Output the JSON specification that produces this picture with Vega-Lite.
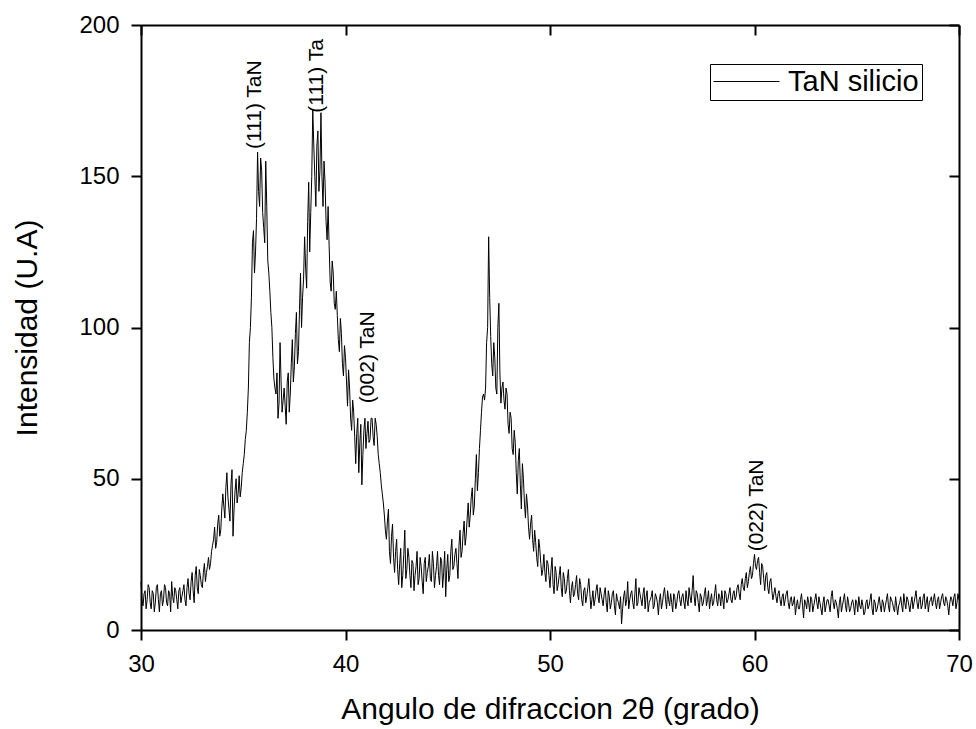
{
"$schema": "https://vega.github.io/schema/vega-lite/v6.json",
"width": 818, "height": 605,
"autosize": "none",
"padding": {"left": 141, "top": 25, "right": 17, "bottom": 99},
"background": "white",
"config": {"view": {"stroke": null}, "font": "Liberation Sans"},
"data": {"values": [
{"angle":30.0,"intensity":16},{"angle":30.1,"intensity":8},{"angle":30.2,"intensity":13},{"angle":30.3,"intensity":10},{"angle":30.4,"intensity":14},{"angle":30.5,"intensity":7},{"angle":30.6,"intensity":12},{"angle":30.7,"intensity":9},{"angle":30.8,"intensity":15},{"angle":30.9,"intensity":6},
{"angle":31.0,"intensity":13},{"angle":31.1,"intensity":10},{"angle":31.2,"intensity":14},{"angle":31.3,"intensity":8},{"angle":31.4,"intensity":12},{"angle":31.5,"intensity":16},{"angle":31.6,"intensity":9},{"angle":31.7,"intensity":13},{"angle":31.8,"intensity":7},{"angle":31.9,"intensity":14},
{"angle":32.0,"intensity":11},{"angle":32.1,"intensity":15},{"angle":32.2,"intensity":8},{"angle":32.3,"intensity":17},{"angle":32.4,"intensity":10},{"angle":32.5,"intensity":19},{"angle":32.6,"intensity":9},{"angle":32.7,"intensity":21},{"angle":32.8,"intensity":12},{"angle":32.9,"intensity":18},
{"angle":33.0,"intensity":14},{"angle":33.1,"intensity":22},{"angle":33.2,"intensity":19},{"angle":33.3,"intensity":24},{"angle":33.4,"intensity":22},{"angle":33.5,"intensity":28},{"angle":33.6,"intensity":34},{"angle":33.7,"intensity":29},{"angle":33.8,"intensity":38},{"angle":33.9,"intensity":33},
{"angle":34.0,"intensity":45},{"angle":34.1,"intensity":37},{"angle":34.2,"intensity":52},{"angle":34.3,"intensity":40},{"angle":34.4,"intensity":48},{"angle":34.5,"intensity":31},{"angle":34.6,"intensity":46},{"angle":34.7,"intensity":42},{"angle":34.8,"intensity":51},{"angle":34.9,"intensity":47},
{"angle":35.0,"intensity":55},{"angle":35.1,"intensity":63},{"angle":35.2,"intensity":72},{"angle":35.3,"intensity":95},{"angle":35.4,"intensity":110},{"angle":35.5,"intensity":132},{"angle":35.6,"intensity":125},{"angle":35.7,"intensity":158},{"angle":35.8,"intensity":140},{"angle":35.9,"intensity":152},
{"angle":36.0,"intensity":133},{"angle":36.1,"intensity":155},{"angle":36.2,"intensity":122},{"angle":36.3,"intensity":112},{"angle":36.4,"intensity":100},{"angle":36.5,"intensity":83},{"angle":36.6,"intensity":78},{"angle":36.7,"intensity":70},{"angle":36.8,"intensity":95},{"angle":36.9,"intensity":72},
{"angle":37.0,"intensity":80},{"angle":37.1,"intensity":68},{"angle":37.2,"intensity":85},{"angle":37.3,"intensity":78},{"angle":37.4,"intensity":96},{"angle":37.5,"intensity":87},{"angle":37.6,"intensity":105},{"angle":37.7,"intensity":92},{"angle":37.8,"intensity":118},{"angle":37.9,"intensity":110},
{"angle":38.0,"intensity":130},{"angle":38.1,"intensity":113},{"angle":38.2,"intensity":148},{"angle":38.3,"intensity":138},{"angle":38.4,"intensity":172},{"angle":38.5,"intensity":150},{"angle":38.6,"intensity":160},{"angle":38.7,"intensity":145},{"angle":38.8,"intensity":171},{"angle":38.9,"intensity":140},
{"angle":39.0,"intensity":148},{"angle":39.1,"intensity":129},{"angle":39.2,"intensity":127},{"angle":39.3,"intensity":112},{"angle":39.4,"intensity":118},{"angle":39.5,"intensity":106},{"angle":39.6,"intensity":104},{"angle":39.7,"intensity":92},{"angle":39.8,"intensity":98},{"angle":39.9,"intensity":84},
{"angle":40.0,"intensity":90},{"angle":40.1,"intensity":74},{"angle":40.2,"intensity":80},{"angle":40.3,"intensity":66},{"angle":40.4,"intensity":72},{"angle":40.5,"intensity":55},{"angle":40.6,"intensity":70},{"angle":40.7,"intensity":62},{"angle":40.8,"intensity":48},{"angle":40.9,"intensity":66},
{"angle":41.0,"intensity":60},{"angle":41.1,"intensity":69},{"angle":41.2,"intensity":63},{"angle":41.3,"intensity":70},{"angle":41.4,"intensity":61},{"angle":41.5,"intensity":68},{"angle":41.6,"intensity":58},{"angle":41.7,"intensity":52},{"angle":41.8,"intensity":45},{"angle":41.9,"intensity":38},
{"angle":42.0,"intensity":30},{"angle":42.1,"intensity":40},{"angle":42.2,"intensity":22},{"angle":42.3,"intensity":35},{"angle":42.4,"intensity":19},{"angle":42.5,"intensity":30},{"angle":42.6,"intensity":15},{"angle":42.7,"intensity":27},{"angle":42.8,"intensity":18},{"angle":42.9,"intensity":33},
{"angle":43.0,"intensity":20},{"angle":43.1,"intensity":24},{"angle":43.2,"intensity":14},{"angle":43.3,"intensity":22},{"angle":43.4,"intensity":18},{"angle":43.5,"intensity":26},{"angle":43.6,"intensity":17},{"angle":43.7,"intensity":21},{"angle":43.8,"intensity":12},{"angle":43.9,"intensity":24},
{"angle":44.0,"intensity":19},{"angle":44.1,"intensity":25},{"angle":44.2,"intensity":16},{"angle":44.3,"intensity":22},{"angle":44.4,"intensity":18},{"angle":44.5,"intensity":26},{"angle":44.6,"intensity":15},{"angle":44.7,"intensity":23},{"angle":44.8,"intensity":19},{"angle":44.9,"intensity":11},
{"angle":45.0,"intensity":25},{"angle":45.1,"intensity":18},{"angle":45.2,"intensity":30},{"angle":45.3,"intensity":21},{"angle":45.4,"intensity":27},{"angle":45.5,"intensity":17},{"angle":45.6,"intensity":33},{"angle":45.7,"intensity":26},{"angle":45.8,"intensity":36},{"angle":45.9,"intensity":31},
{"angle":46.0,"intensity":42},{"angle":46.1,"intensity":38},{"angle":46.2,"intensity":47},{"angle":46.3,"intensity":41},{"angle":46.4,"intensity":58},{"angle":46.5,"intensity":52},{"angle":46.6,"intensity":66},{"angle":46.7,"intensity":77},{"angle":46.8,"intensity":76},{"angle":46.9,"intensity":95},
{"angle":47.0,"intensity":130},{"angle":47.1,"intensity":97},{"angle":47.2,"intensity":84},{"angle":47.3,"intensity":90},{"angle":47.4,"intensity":78},{"angle":47.5,"intensity":108},{"angle":47.6,"intensity":75},{"angle":47.7,"intensity":82},{"angle":47.8,"intensity":73},{"angle":47.9,"intensity":78},
{"angle":48.0,"intensity":65},{"angle":48.1,"intensity":70},{"angle":48.2,"intensity":58},{"angle":48.3,"intensity":62},{"angle":48.4,"intensity":45},{"angle":48.5,"intensity":60},{"angle":48.6,"intensity":40},{"angle":48.7,"intensity":50},{"angle":48.8,"intensity":37},{"angle":48.9,"intensity":41},
{"angle":49.0,"intensity":30},{"angle":49.1,"intensity":38},{"angle":49.2,"intensity":26},{"angle":49.3,"intensity":29},{"angle":49.4,"intensity":21},{"angle":49.5,"intensity":27},{"angle":49.6,"intensity":18},{"angle":49.7,"intensity":25},{"angle":49.8,"intensity":16},{"angle":49.9,"intensity":22},
{"angle":50.0,"intensity":14},{"angle":50.1,"intensity":24},{"angle":50.2,"intensity":12},{"angle":50.3,"intensity":19},{"angle":50.4,"intensity":15},{"angle":50.5,"intensity":21},{"angle":50.6,"intensity":11},{"angle":50.7,"intensity":17},{"angle":50.8,"intensity":13},{"angle":50.9,"intensity":20},
{"angle":51.0,"intensity":9},{"angle":51.1,"intensity":16},{"angle":51.2,"intensity":12},{"angle":51.3,"intensity":18},{"angle":51.4,"intensity":10},{"angle":51.5,"intensity":15},{"angle":51.6,"intensity":8},{"angle":51.7,"intensity":14},{"angle":51.8,"intensity":11},{"angle":51.9,"intensity":17},
{"angle":52.0,"intensity":7},{"angle":52.1,"intensity":13},{"angle":52.2,"intensity":10},{"angle":52.3,"intensity":15},{"angle":52.4,"intensity":9},{"angle":52.5,"intensity":12},{"angle":52.6,"intensity":8},{"angle":52.7,"intensity":14},{"angle":52.8,"intensity":6},{"angle":52.9,"intensity":11},
{"angle":53.0,"intensity":9},{"angle":53.1,"intensity":13},{"angle":53.2,"intensity":5},{"angle":53.3,"intensity":10},{"angle":53.4,"intensity":7},{"angle":53.5,"intensity":2},{"angle":53.6,"intensity":11},{"angle":53.7,"intensity":8},{"angle":53.8,"intensity":16},{"angle":53.9,"intensity":10},
{"angle":54.0,"intensity":13},{"angle":54.1,"intensity":7},{"angle":54.2,"intensity":17},{"angle":54.3,"intensity":9},{"angle":54.4,"intensity":12},{"angle":54.5,"intensity":8},{"angle":54.6,"intensity":14},{"angle":54.7,"intensity":11},{"angle":54.8,"intensity":6},{"angle":54.9,"intensity":10},
{"angle":55.0,"intensity":13},{"angle":55.1,"intensity":8},{"angle":55.2,"intensity":11},{"angle":55.3,"intensity":5},{"angle":55.4,"intensity":12},{"angle":55.5,"intensity":9},{"angle":55.6,"intensity":14},{"angle":55.7,"intensity":7},{"angle":55.8,"intensity":10},{"angle":55.9,"intensity":12},
{"angle":56.0,"intensity":6},{"angle":56.1,"intensity":11},{"angle":56.2,"intensity":9},{"angle":56.3,"intensity":13},{"angle":56.4,"intensity":8},{"angle":56.5,"intensity":12},{"angle":56.6,"intensity":7},{"angle":56.7,"intensity":10},{"angle":56.8,"intensity":14},{"angle":56.9,"intensity":9},
{"angle":57.0,"intensity":18},{"angle":57.1,"intensity":8},{"angle":57.2,"intensity":12},{"angle":57.3,"intensity":6},{"angle":57.4,"intensity":11},{"angle":57.5,"intensity":9},{"angle":57.6,"intensity":14},{"angle":57.7,"intensity":10},{"angle":57.8,"intensity":7},{"angle":57.9,"intensity":12},
{"angle":58.0,"intensity":9},{"angle":58.1,"intensity":15},{"angle":58.2,"intensity":8},{"angle":58.3,"intensity":11},{"angle":58.4,"intensity":13},{"angle":58.5,"intensity":7},{"angle":58.6,"intensity":12},{"angle":58.7,"intensity":10},{"angle":58.8,"intensity":14},{"angle":58.9,"intensity":9},
{"angle":59.0,"intensity":13},{"angle":59.1,"intensity":11},{"angle":59.2,"intensity":15},{"angle":59.3,"intensity":10},{"angle":59.4,"intensity":17},{"angle":59.5,"intensity":13},{"angle":59.6,"intensity":19},{"angle":59.7,"intensity":16},{"angle":59.8,"intensity":21},{"angle":59.9,"intensity":18},
{"angle":60.0,"intensity":25},{"angle":60.1,"intensity":20},{"angle":60.2,"intensity":24},{"angle":60.3,"intensity":15},{"angle":60.4,"intensity":21},{"angle":60.5,"intensity":13},{"angle":60.6,"intensity":19},{"angle":60.7,"intensity":12},{"angle":60.8,"intensity":17},{"angle":60.9,"intensity":10},
{"angle":61.0,"intensity":14},{"angle":61.1,"intensity":9},{"angle":61.2,"intensity":13},{"angle":61.3,"intensity":8},{"angle":61.4,"intensity":12},{"angle":61.5,"intensity":10},{"angle":61.6,"intensity":13},{"angle":61.7,"intensity":7},{"angle":61.8,"intensity":11},{"angle":61.9,"intensity":9},
{"angle":62.0,"intensity":5},{"angle":62.1,"intensity":10},{"angle":62.2,"intensity":7},{"angle":62.3,"intensity":12},{"angle":62.4,"intensity":4},{"angle":62.5,"intensity":9},{"angle":62.6,"intensity":11},{"angle":62.7,"intensity":6},{"angle":62.8,"intensity":10},{"angle":62.9,"intensity":8},
{"angle":63.0,"intensity":12},{"angle":63.1,"intensity":7},{"angle":63.2,"intensity":9},{"angle":63.3,"intensity":5},{"angle":63.4,"intensity":11},{"angle":63.5,"intensity":8},{"angle":63.6,"intensity":10},{"angle":63.7,"intensity":6},{"angle":63.8,"intensity":13},{"angle":63.9,"intensity":7},
{"angle":64.0,"intensity":9},{"angle":64.1,"intensity":4},{"angle":64.2,"intensity":11},{"angle":64.3,"intensity":8},{"angle":64.4,"intensity":12},{"angle":64.5,"intensity":6},{"angle":64.6,"intensity":9},{"angle":64.7,"intensity":7},{"angle":64.8,"intensity":10},{"angle":64.9,"intensity":5},
{"angle":65.0,"intensity":9},{"angle":65.1,"intensity":11},{"angle":65.2,"intensity":7},{"angle":65.3,"intensity":8},{"angle":65.4,"intensity":6},{"angle":65.5,"intensity":10},{"angle":65.6,"intensity":8},{"angle":65.7,"intensity":12},{"angle":65.8,"intensity":5},{"angle":65.9,"intensity":9},
{"angle":66.0,"intensity":7},{"angle":66.1,"intensity":11},{"angle":66.2,"intensity":6},{"angle":66.3,"intensity":9},{"angle":66.4,"intensity":8},{"angle":66.5,"intensity":12},{"angle":66.6,"intensity":6},{"angle":66.7,"intensity":10},{"angle":66.8,"intensity":7},{"angle":66.9,"intensity":11},
{"angle":67.0,"intensity":5},{"angle":67.1,"intensity":9},{"angle":67.2,"intensity":8},{"angle":67.3,"intensity":12},{"angle":67.4,"intensity":7},{"angle":67.5,"intensity":10},{"angle":67.6,"intensity":6},{"angle":67.7,"intensity":11},{"angle":67.8,"intensity":9},{"angle":67.9,"intensity":13},
{"angle":68.0,"intensity":7},{"angle":68.1,"intensity":11},{"angle":68.2,"intensity":8},{"angle":68.3,"intensity":12},{"angle":68.4,"intensity":9},{"angle":68.5,"intensity":6},{"angle":68.6,"intensity":10},{"angle":68.7,"intensity":8},{"angle":68.8,"intensity":12},{"angle":68.9,"intensity":7},
{"angle":69.0,"intensity":11},{"angle":69.1,"intensity":9},{"angle":69.2,"intensity":12},{"angle":69.3,"intensity":8},{"angle":69.4,"intensity":10},{"angle":69.5,"intensity":5},{"angle":69.6,"intensity":11},{"angle":69.7,"intensity":8},{"angle":69.8,"intensity":12},{"angle":69.9,"intensity":9},
{"angle":70.0,"intensity":10},
{"angle":30.05,"intensity":10},{"angle":30.15,"intensity":12},{"angle":30.25,"intensity":7},{"angle":30.35,"intensity":15},{"angle":30.45,"intensity":9},{"angle":30.55,"intensity":13},{"angle":30.65,"intensity":6},{"angle":30.75,"intensity":14},{"angle":30.85,"intensity":10},{"angle":30.95,"intensity":12},
{"angle":31.05,"intensity":8},{"angle":31.15,"intensity":15},{"angle":31.25,"intensity":9},{"angle":31.35,"intensity":13},{"angle":31.45,"intensity":6},{"angle":31.55,"intensity":11},{"angle":31.65,"intensity":14},{"angle":31.75,"intensity":10},{"angle":31.85,"intensity":13},{"angle":31.95,"intensity":9},
{"angle":32.05,"intensity":13},{"angle":32.15,"intensity":10},{"angle":32.25,"intensity":14},{"angle":32.35,"intensity":12},{"angle":32.45,"intensity":16},{"angle":32.55,"intensity":13},{"angle":32.65,"intensity":18},{"angle":32.75,"intensity":14},{"angle":32.85,"intensity":20},{"angle":32.95,"intensity":15},
{"angle":33.05,"intensity":19},{"angle":33.15,"intensity":16},{"angle":33.25,"intensity":21},{"angle":33.35,"intensity":20},{"angle":33.45,"intensity":26},{"angle":33.55,"intensity":30},{"angle":33.65,"intensity":27},{"angle":33.75,"intensity":35},{"angle":33.85,"intensity":31},{"angle":33.95,"intensity":40},
{"angle":34.05,"intensity":41},{"angle":34.15,"intensity":47},{"angle":34.25,"intensity":44},{"angle":34.35,"intensity":36},{"angle":34.45,"intensity":53},{"angle":34.55,"intensity":40},{"angle":34.65,"intensity":50},{"angle":34.75,"intensity":45},{"angle":34.85,"intensity":44},{"angle":34.95,"intensity":52},
{"angle":35.05,"intensity":58},{"angle":35.15,"intensity":66},{"angle":35.25,"intensity":80},{"angle":35.35,"intensity":100},{"angle":35.45,"intensity":128},{"angle":35.55,"intensity":118},{"angle":35.65,"intensity":136},{"angle":35.75,"intensity":145},{"angle":35.85,"intensity":156},{"angle":35.95,"intensity":138},
{"angle":36.05,"intensity":128},{"angle":36.15,"intensity":140},{"angle":36.25,"intensity":118},{"angle":36.35,"intensity":105},{"angle":36.45,"intensity":90},{"angle":36.55,"intensity":80},{"angle":36.65,"intensity":85},{"angle":36.75,"intensity":75},{"angle":36.85,"intensity":82},{"angle":36.95,"intensity":76},
{"angle":37.05,"intensity":74},{"angle":37.15,"intensity":82},{"angle":37.25,"intensity":72},{"angle":37.35,"intensity":88},{"angle":37.45,"intensity":82},{"angle":37.55,"intensity":98},{"angle":37.65,"intensity":88},{"angle":37.75,"intensity":106},{"angle":37.85,"intensity":100},{"angle":37.95,"intensity":116},
{"angle":38.05,"intensity":120},{"angle":38.15,"intensity":135},{"angle":38.25,"intensity":125},{"angle":38.35,"intensity":150},{"angle":38.45,"intensity":160},{"angle":38.55,"intensity":140},{"angle":38.65,"intensity":165},{"angle":38.75,"intensity":152},{"angle":38.85,"intensity":150},{"angle":38.95,"intensity":155},
{"angle":39.05,"intensity":135},{"angle":39.15,"intensity":140},{"angle":39.25,"intensity":115},{"angle":39.35,"intensity":122},{"angle":39.45,"intensity":108},{"angle":39.55,"intensity":112},{"angle":39.65,"intensity":96},{"angle":39.75,"intensity":103},{"angle":39.85,"intensity":88},{"angle":39.95,"intensity":94},
{"angle":40.05,"intensity":82},{"angle":40.15,"intensity":86},{"angle":40.25,"intensity":70},{"angle":40.35,"intensity":76},{"angle":40.45,"intensity":64},{"angle":40.55,"intensity":65},{"angle":40.65,"intensity":52},{"angle":40.75,"intensity":68},{"angle":40.85,"intensity":58},{"angle":40.95,"intensity":70},
{"angle":41.05,"intensity":65},{"angle":41.15,"intensity":62},{"angle":41.25,"intensity":70},{"angle":41.35,"intensity":64},{"angle":41.45,"intensity":70},{"angle":41.55,"intensity":64},{"angle":41.65,"intensity":55},{"angle":41.75,"intensity":48},{"angle":41.85,"intensity":42},{"angle":41.95,"intensity":33},
{"angle":42.05,"intensity":36},{"angle":42.15,"intensity":26},{"angle":42.25,"intensity":31},{"angle":42.35,"intensity":24},{"angle":42.45,"intensity":26},{"angle":42.55,"intensity":20},{"angle":42.65,"intensity":22},{"angle":42.75,"intensity":14},{"angle":42.85,"intensity":25},{"angle":42.95,"intensity":17},
{"angle":43.05,"intensity":27},{"angle":43.15,"intensity":18},{"angle":43.25,"intensity":23},{"angle":43.35,"intensity":13},{"angle":43.45,"intensity":21},{"angle":43.55,"intensity":15},{"angle":43.65,"intensity":24},{"angle":43.75,"intensity":16},{"angle":43.85,"intensity":22},{"angle":43.95,"intensity":16},
{"angle":44.05,"intensity":21},{"angle":44.15,"intensity":17},{"angle":44.25,"intensity":26},{"angle":44.35,"intensity":14},{"angle":44.45,"intensity":21},{"angle":44.55,"intensity":18},{"angle":44.65,"intensity":24},{"angle":44.75,"intensity":14},{"angle":44.85,"intensity":26},{"angle":44.95,"intensity":20},
{"angle":45.05,"intensity":16},{"angle":45.15,"intensity":26},{"angle":45.25,"intensity":20},{"angle":45.35,"intensity":25},{"angle":45.45,"intensity":22},{"angle":45.55,"intensity":28},{"angle":45.65,"intensity":24},{"angle":45.75,"intensity":32},{"angle":45.85,"intensity":28},{"angle":45.95,"intensity":37},
{"angle":46.05,"intensity":34},{"angle":46.15,"intensity":44},{"angle":46.25,"intensity":38},{"angle":46.35,"intensity":50},{"angle":46.45,"intensity":46},{"angle":46.55,"intensity":60},{"angle":46.65,"intensity":72},{"angle":46.75,"intensity":78},{"angle":46.85,"intensity":80},{"angle":46.95,"intensity":100},
{"angle":47.05,"intensity":110},{"angle":47.15,"intensity":88},{"angle":47.25,"intensity":95},{"angle":47.35,"intensity":80},{"angle":47.45,"intensity":100},{"angle":47.55,"intensity":85},{"angle":47.65,"intensity":80},{"angle":47.75,"intensity":76},{"angle":47.85,"intensity":80},{"angle":47.95,"intensity":68},
{"angle":48.05,"intensity":72},{"angle":48.15,"intensity":60},{"angle":48.25,"intensity":66},{"angle":48.35,"intensity":52},{"angle":48.45,"intensity":56},{"angle":48.55,"intensity":48},{"angle":48.65,"intensity":55},{"angle":48.75,"intensity":42},{"angle":48.85,"intensity":45},{"angle":48.95,"intensity":34},
{"angle":49.05,"intensity":35},{"angle":49.15,"intensity":30},{"angle":49.25,"intensity":33},{"angle":49.35,"intensity":24},{"angle":49.45,"intensity":30},{"angle":49.55,"intensity":22},{"angle":49.65,"intensity":20},{"angle":49.75,"intensity":19},{"angle":49.85,"intensity":23},{"angle":49.95,"intensity":18},
{"angle":50.05,"intensity":20},{"angle":50.15,"intensity":15},{"angle":50.25,"intensity":21},{"angle":50.35,"intensity":13},{"angle":50.45,"intensity":18},{"angle":50.55,"intensity":14},{"angle":50.65,"intensity":19},{"angle":50.75,"intensity":12},{"angle":50.85,"intensity":17},{"angle":50.95,"intensity":13},
{"angle":51.05,"intensity":14},{"angle":51.15,"intensity":11},{"angle":51.25,"intensity":15},{"angle":51.35,"intensity":12},{"angle":51.45,"intensity":17},{"angle":51.55,"intensity":10},{"angle":51.65,"intensity":13},{"angle":51.75,"intensity":9},{"angle":51.85,"intensity":14},{"angle":51.95,"intensity":12},
{"angle":52.05,"intensity":10},{"angle":52.15,"intensity":8},{"angle":52.25,"intensity":13},{"angle":52.35,"intensity":11},{"angle":52.45,"intensity":14},{"angle":52.55,"intensity":10},{"angle":52.65,"intensity":12},{"angle":52.75,"intensity":9},{"angle":52.85,"intensity":13},{"angle":52.95,"intensity":7},
{"angle":53.05,"intensity":12},{"angle":53.15,"intensity":8},{"angle":53.25,"intensity":12},{"angle":53.35,"intensity":9},{"angle":53.45,"intensity":11},{"angle":53.55,"intensity":7},{"angle":53.65,"intensity":13},{"angle":53.75,"intensity":10},{"angle":53.85,"intensity":7},{"angle":53.95,"intensity":12},
{"angle":54.05,"intensity":9},{"angle":54.15,"intensity":12},{"angle":54.25,"intensity":8},{"angle":54.35,"intensity":14},{"angle":54.45,"intensity":10},{"angle":54.55,"intensity":12},{"angle":54.65,"intensity":7},{"angle":54.75,"intensity":13},{"angle":54.85,"intensity":9},{"angle":54.95,"intensity":11},
{"angle":55.05,"intensity":7},{"angle":55.15,"intensity":12},{"angle":55.25,"intensity":9},{"angle":55.35,"intensity":10},{"angle":55.45,"intensity":7},{"angle":55.55,"intensity":12},{"angle":55.65,"intensity":10},{"angle":55.75,"intensity":13},{"angle":55.85,"intensity":8},{"angle":55.95,"intensity":9},
{"angle":56.05,"intensity":12},{"angle":56.15,"intensity":7},{"angle":56.25,"intensity":12},{"angle":56.35,"intensity":10},{"angle":56.45,"intensity":11},{"angle":56.55,"intensity":9},{"angle":56.65,"intensity":13},{"angle":56.75,"intensity":8},{"angle":56.85,"intensity":11},{"angle":56.95,"intensity":13},
{"angle":57.05,"intensity":11},{"angle":57.15,"intensity":13},{"angle":57.25,"intensity":9},{"angle":57.35,"intensity":12},{"angle":57.45,"intensity":8},{"angle":57.55,"intensity":12},{"angle":57.65,"intensity":8},{"angle":57.75,"intensity":13},{"angle":57.85,"intensity":10},{"angle":57.95,"intensity":8},
{"angle":58.05,"intensity":12},{"angle":58.15,"intensity":10},{"angle":58.25,"intensity":12},{"angle":58.35,"intensity":8},{"angle":58.45,"intensity":10},{"angle":58.55,"intensity":13},{"angle":58.65,"intensity":9},{"angle":58.75,"intensity":12},{"angle":58.85,"intensity":10},{"angle":58.95,"intensity":12},
{"angle":59.05,"intensity":10},{"angle":59.15,"intensity":14},{"angle":59.25,"intensity":12},{"angle":59.35,"intensity":15},{"angle":59.45,"intensity":14},{"angle":59.55,"intensity":17},{"angle":59.65,"intensity":14},{"angle":59.75,"intensity":19},{"angle":59.85,"intensity":17},{"angle":59.95,"intensity":22},
{"angle":60.05,"intensity":21},{"angle":60.15,"intensity":23},{"angle":60.25,"intensity":19},{"angle":60.35,"intensity":22},{"angle":60.45,"intensity":17},{"angle":60.55,"intensity":18},{"angle":60.65,"intensity":14},{"angle":60.75,"intensity":16},{"angle":60.85,"intensity":13},{"angle":60.95,"intensity":12},
{"angle":61.05,"intensity":11},{"angle":61.15,"intensity":12},{"angle":61.25,"intensity":10},{"angle":61.35,"intensity":11},{"angle":61.45,"intensity":8},{"angle":61.55,"intensity":12},{"angle":61.65,"intensity":9},{"angle":61.75,"intensity":10},{"angle":61.85,"intensity":8},{"angle":61.95,"intensity":11},
{"angle":62.05,"intensity":8},{"angle":62.15,"intensity":7},{"angle":62.25,"intensity":10},{"angle":62.35,"intensity":8},{"angle":62.45,"intensity":10},{"angle":62.55,"intensity":7},{"angle":62.65,"intensity":9},{"angle":62.75,"intensity":11},{"angle":62.85,"intensity":6},{"angle":62.95,"intensity":10},
{"angle":63.05,"intensity":9},{"angle":63.15,"intensity":11},{"angle":63.25,"intensity":7},{"angle":63.35,"intensity":9},{"angle":63.45,"intensity":6},{"angle":63.55,"intensity":10},{"angle":63.65,"intensity":8},{"angle":63.75,"intensity":11},{"angle":63.85,"intensity":9},{"angle":63.95,"intensity":10},
{"angle":64.05,"intensity":7},{"angle":64.15,"intensity":9},{"angle":64.25,"intensity":6},{"angle":64.35,"intensity":10},{"angle":64.45,"intensity":8},{"angle":64.55,"intensity":11},{"angle":64.65,"intensity":6},{"angle":64.75,"intensity":9},{"angle":64.85,"intensity":8},{"angle":64.95,"intensity":10},
{"angle":65.05,"intensity":6},{"angle":65.15,"intensity":8},{"angle":65.25,"intensity":10},{"angle":65.35,"intensity":5},{"angle":65.45,"intensity":9},{"angle":65.55,"intensity":7},{"angle":65.65,"intensity":10},{"angle":65.75,"intensity":7},{"angle":65.85,"intensity":10},{"angle":65.95,"intensity":6},
{"angle":66.05,"intensity":9},{"angle":66.15,"intensity":8},{"angle":66.25,"intensity":10},{"angle":66.35,"intensity":6},{"angle":66.45,"intensity":10},{"angle":66.55,"intensity":8},{"angle":66.65,"intensity":11},{"angle":66.75,"intensity":9},{"angle":66.85,"intensity":6},{"angle":66.95,"intensity":8},
{"angle":67.05,"intensity":8},{"angle":67.15,"intensity":11},{"angle":67.25,"intensity":6},{"angle":67.35,"intensity":9},{"angle":67.45,"intensity":11},{"angle":67.55,"intensity":8},{"angle":67.65,"intensity":9},{"angle":67.75,"intensity":7},{"angle":67.85,"intensity":11},{"angle":67.95,"intensity":9},
{"angle":68.05,"intensity":10},{"angle":68.15,"intensity":7},{"angle":68.25,"intensity":11},{"angle":68.35,"intensity":7},{"angle":68.45,"intensity":11},{"angle":68.55,"intensity":9},{"angle":68.65,"intensity":11},{"angle":68.75,"intensity":10},{"angle":68.85,"intensity":9},{"angle":68.95,"intensity":10},
{"angle":69.05,"intensity":7},{"angle":69.15,"intensity":11},{"angle":69.25,"intensity":9},{"angle":69.35,"intensity":11},{"angle":69.45,"intensity":8},{"angle":69.55,"intensity":9},{"angle":69.65,"intensity":10},{"angle":69.75,"intensity":11},{"angle":69.85,"intensity":7},{"angle":69.95,"intensity":12}
]},
"datasets": {
"ann": [
{"angle":35.57,"intensity":159,"label":"(111) TaN"},
{"angle":38.6,"intensity":171,"label":"(111) Ta"},
{"angle":41.1,"intensity":75,"label":"(002) TaN"},
{"angle":60.1,"intensity":26,"label":"(022) TaN"}
]
},
"layer": [
{
"mark": {"type": "line", "strokeWidth": 1, "color": "black"},
"encoding": {
"x": {"field": "angle", "type": "quantitative",
 "scale": {"domain": [30, 70], "nice": false, "zero": false},
 "axis": {"orient": "bottom", "title": "Angulo de difraccion 2θ (grado)",
  "values": [30,40,50,60,70], "tickSize": 10, "tickWidth": 2, "tickColor": "black", "grid": false,
  "domainColor": "black", "domainWidth": 2,
  "labelFontSize": 24, "labelColor": "black", "labelPadding": 12, "labelFlush": false, "labelOverlap": false, "labelBound": false,
  "titleFontSize": 30, "titleFontWeight": "normal", "titleColor": "black", "titlePadding": 18}},
"y": {"field": "intensity", "type": "quantitative",
 "scale": {"domain": [0, 200], "nice": false, "zero": false},
 "axis": {"orient": "left", "title": "Intensidad (U.A)",
  "values": [0,50,100,150,200], "tickSize": 10, "tickWidth": 2, "tickColor": "black", "grid": false,
  "domainColor": "black", "domainWidth": 2,
  "labelFontSize": 24, "labelColor": "black", "labelPadding": 12, "labelFlush": false, "labelOverlap": false, "labelBound": false,
  "titleFontSize": 30, "titleFontWeight": "normal", "titleColor": "black", "titlePadding": 36}},
"color": {"datum": "TaN silicio", "type": "nominal", "scale": {"range": ["black"]},
 "legend": {"orient": "none", "legendX": 569, "legendY": 39, "title": null,
  "symbolType": "stroke", "symbolSize": 4356, "symbolStrokeWidth": 1, "symbolStrokeColor": "#555555",
  "labelFontSize": 29, "labelColor": "black", "labelOffset": 8, "labelLimit": 400,
  "clipHeight": 29, "padding": 3, "strokeColor": "black", "fillColor": "white"}}
}
},
{
"mark": {"type": "point", "opacity": 0},
"encoding": {
"x": {"field": "angle", "type": "quantitative",
 "scale": {"domain": [30, 70], "nice": false, "zero": false},
 "axis": {"orient": "top", "values": [30,40,50,60,70], "tickSize": -10, "tickWidth": 2, "tickColor": "black", "labels": false, "title": null, "grid": false, "domainColor": "black", "domainWidth": 2}},
"y": {"field": "intensity", "type": "quantitative",
 "scale": {"domain": [0, 200], "nice": false, "zero": false},
 "axis": {"orient": "right", "values": [0,50,100,150,200], "tickSize": -10, "tickWidth": 2, "tickColor": "black", "labels": false, "title": null, "grid": false, "domainColor": "black", "domainWidth": 2}}
}
},
{
"data": {"name": "ann"},
"mark": {"type": "text", "angle": 270, "align": "left", "baseline": "middle", "fontSize": 21, "color": "black"},
"encoding": {
"x": {"field": "angle", "type": "quantitative", "axis": null},
"y": {"field": "intensity", "type": "quantitative", "axis": null},
"text": {"field": "label"}
}
}
],
"resolve": {"axis": {"x": "independent", "y": "independent"}}
}
